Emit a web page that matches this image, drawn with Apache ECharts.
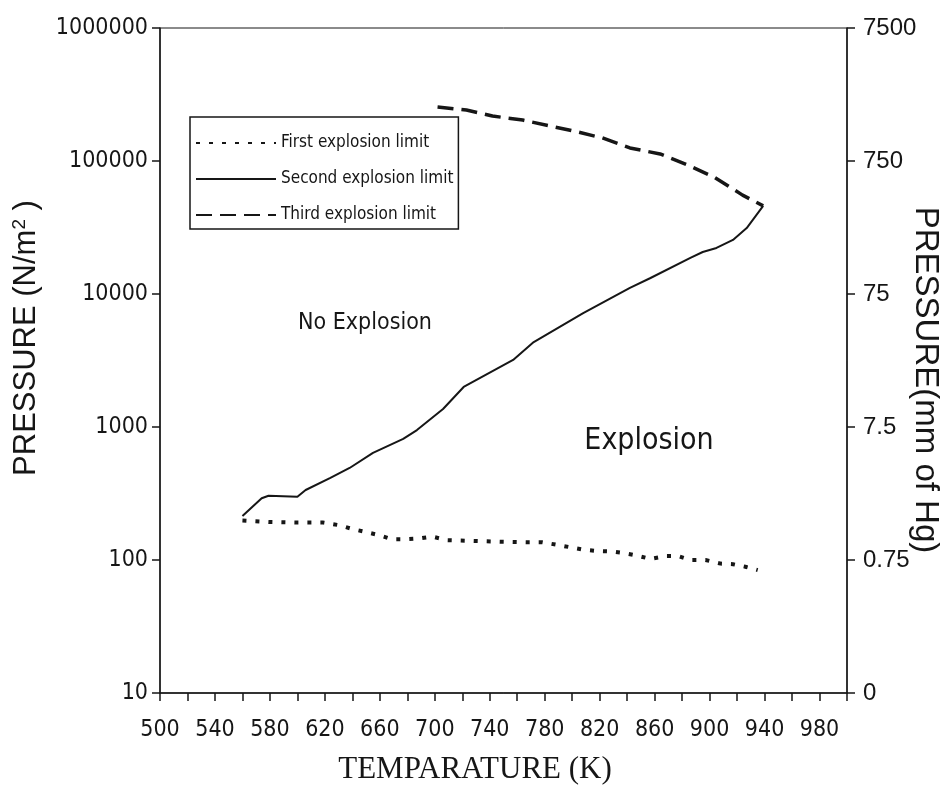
<!DOCTYPE html>
<html><head><meta charset="utf-8">
<script src="https://cdn.jsdelivr.net/npm/echarts/dist/echarts.min.js"></script>
<style>html,body{margin:0;padding:0;background:#fff}#c{width:945px;height:802px}</style>
</head><body><div id="c"></div>
<script>
// ---- data ----
const seriesNames = ['First explosion limit', 'Second explosion limit', 'Third explosion limit'];
const firstT = [560, 580, 600, 619, 630, 640, 649, 659, 669, 678, 688, 698, 709, 728, 749, 768, 778, 789, 798, 807, 818, 829, 837, 847, 857, 868, 877, 886, 897, 908, 917, 926, 935];
const firstP = [198, 193, 191, 191, 183, 171, 163, 154, 143, 143, 145, 150, 141, 139, 137, 136, 136, 130, 125, 120, 117, 116, 113, 108, 102, 107, 107, 100, 100, 94, 93, 89, 84];
const secondT = [560, 574, 579, 600, 606, 624, 638, 655, 677, 687, 706, 721, 757, 772, 808, 842, 857, 886, 895, 905, 917, 927, 939];
const secondP = [214, 291, 304, 299, 336, 414, 492, 638, 813, 948, 1365, 2000, 3190, 4355, 7190, 11100, 13190, 18660, 20700, 22200, 25500, 31300, 46000];
const thirdT = [702, 723, 742, 764, 784, 804, 822, 842, 864, 884, 903, 924, 939];
const thirdP = [254700, 241600, 217800, 203100, 183300, 165300, 149000, 125300, 113000, 93300, 75900, 55400, 46000];
const xTickLabels = [500, 540, 580, 620, 660, 700, 740, 780, 820, 860, 900, 940, 980];
const leftTickLabels = ['10', '100', '1000', '10000', '100000', '1000000'];
const rightTickLabels = ['0', '0.75', '7.5', '75', '750', '7500'];

const zip = (a, b) => a.map((v, i) => [v, b[i]]);
const NARROW = '"Liberation Sans Narrow", "DejaVu Sans Condensed", "Liberation Sans", sans-serif';
const INK = '#161616';
const decadeIndex = v => Math.round(Math.log10(v)) - 1;

const chart = echarts.init(document.getElementById('c'), null, {renderer: 'canvas'});
chart.setOption({
  backgroundColor: '#ffffff',
  animation: false,
  grid: {left: 160, right: 98, top: 28, bottom: 109, show: true, borderColor: INK, borderWidth: 1, backgroundColor: 'transparent'},
  legend: {
    orient: 'vertical', left: 190, top: 117,
    data: seriesNames,
    itemWidth: 80, itemHeight: 14, itemGap: 16,
    padding: [16, 5, 4, 5],
    borderColor: INK, borderWidth: 1.5,
    itemStyle: {opacity: 0},
    textStyle: {fontFamily: NARROW, fontSize: 17, color: INK, lineHeight: 20},
    selectedMode: false
  },
  xAxis: {
    type: 'value', min: 500, max: 1000, interval: 20,
    axisLine: {show: true, lineStyle: {color: INK, width: 1.5}},
    axisTick: {show: true, length: 8, inside: false, lineStyle: {color: INK, width: 1.5}},
    splitLine: {show: false},
    axisLabel: {
      margin: 26, fontFamily: NARROW, fontSize: 23, color: INK,
      formatter: v => xTickLabels.indexOf(v) >= 0 ? String(v) : ''
    }
  },
  yAxis: [{
    type: 'log', logBase: 10, min: 10, max: 1000000, position: 'left',
    axisLine: {show: true, lineStyle: {color: INK, width: 1.5}},
    axisTick: {show: true, length: 8, lineStyle: {color: INK, width: 1.5}},
    minorTick: {show: false},
    splitLine: {show: false},
    axisLabel: {margin: 12, fontFamily: NARROW, fontSize: 23, color: INK,
      formatter: v => leftTickLabels[decadeIndex(v)]}
  }, {
    type: 'log', logBase: 10, min: 10, max: 1000000, position: 'right',
    axisLine: {show: true, lineStyle: {color: INK, width: 1.5}},
    axisTick: {show: true, length: 8, lineStyle: {color: INK, width: 1.5}},
    splitLine: {show: false},
    axisLabel: {margin: 16, fontFamily: '"Liberation Sans", sans-serif', fontSize: 24, color: INK,
      formatter: v => rightTickLabels[decadeIndex(v)]}
  }],
  series: [{
    name: seriesNames[0], type: 'line', yAxisIndex: 0, symbol: 'none',
    data: zip(firstT, firstP),
    lineStyle: {color: INK, width: 4, type: [4, 9]}, itemStyle: {color: INK}
  }, {
    name: seriesNames[1], type: 'line', yAxisIndex: 0, symbol: 'none',
    data: zip(secondT, secondP),
    lineStyle: {color: INK, width: 2, type: 'solid'}, itemStyle: {color: INK}
  }, {
    name: seriesNames[2], type: 'line', yAxisIndex: 0, symbol: 'none',
    data: zip(thirdT, thirdP),
    lineStyle: {color: INK, width: 3.5, type: [16, 8]}, itemStyle: {color: INK}
  }],
  graphic: [{
    type: 'text', x: 26, y: 338, rotation: Math.PI / 2,
    style: {text: 'PRESSURE (N/m{sup|2} )', align: 'center', verticalAlign: 'middle',
      textAlign: 'center', textVerticalAlign: 'middle',
      font: '31px "Liberation Sans", sans-serif', fill: INK,
      rich: {sup: {fontSize: 19, fontFamily: '"Liberation Sans", sans-serif', verticalAlign: 'top', fill: INK}}}
  }, {
    type: 'text', x: 925, y: 380, rotation: -Math.PI / 2,
    style: {text: 'PRESSURE(mm of Hg)', align: 'center', verticalAlign: 'middle',
      textAlign: 'center', textVerticalAlign: 'middle',
      font: '33px "Liberation Sans", sans-serif', fill: INK}
  }, {
    type: 'text', x: 475, y: 770,
    style: {text: 'TEMPARATURE (K)', align: 'center', verticalAlign: 'middle',
      textAlign: 'center', textVerticalAlign: 'middle',
      font: '31px "Liberation Serif", serif', fill: INK}
  }, {
    type: 'text', x: 365, y: 323,
    style: {text: 'No Explosion', align: 'center', verticalAlign: 'middle',
      textAlign: 'center', textVerticalAlign: 'middle',
      font: '23px ' + NARROW, fill: INK}
  }, {
    type: 'text', x: 649, y: 441,
    style: {text: 'Explosion', align: 'center', verticalAlign: 'middle',
      textAlign: 'center', textVerticalAlign: 'middle',
      font: '30px ' + NARROW, fill: INK}
  }]
});
</script>
</body></html>
